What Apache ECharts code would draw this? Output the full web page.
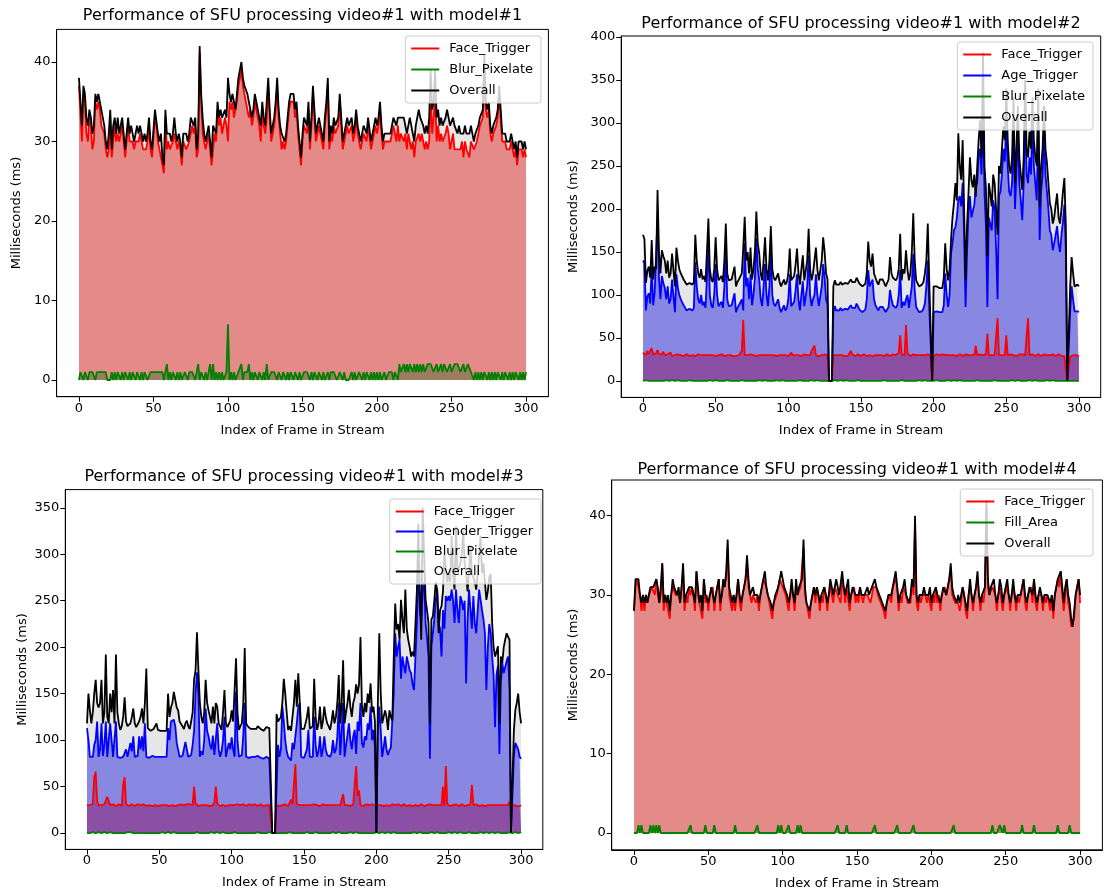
<!DOCTYPE html>
<html>
<head>
<meta charset="utf-8">
<script src="https://cdn.jsdelivr.net/npm/echarts@6/dist/echarts.min.js"></script>
<style>
html,body{margin:0;padding:0;background:#fff;}
#chart{width:1105px;height:892px;}
</style>
</head>
<body>
<div id="chart"></div>
<script>
// Per-frame processing time (ms), frames 0..300, for each pipeline stage.

// ---- model#1 ----
const m1Face = [
37,37,30,36,35,31,30,33,32,29,
30,35,34,35,34,32,32,31,29,28,
29,33,28,30,32,30,31,30,31,32,
30,28,28,32,30,30,30,29,30,30,
30,31,30,29,29,29,30,32,29,28,
28,33,32,30,29,29,27,26,33,29,
30,29,29,30,31,30,29,30,29,27,
30,30,29,29,30,31,32,31,32,28,
29,41,35,31,30,29,29,31,29,27,
29,31,30,34,32,33,31,32,33,32,
30,35,34,35,33,33,35,37,37,39,
37,36,35,35,33,34,32,33,35,34,
33,32,30,34,32,31,33,37,33,30,
31,32,34,37,33,31,29,30,29,30,
32,34,35,35,35,33,34,31,29,27,
30,32,32,31,34,29,32,36,33,30,
31,32,32,30,29,32,34,37,29,31,
30,32,31,31,32,35,32,29,30,31,
32,31,31,32,30,31,33,31,30,29,
30,31,31,30,32,32,29,30,31,32,
31,32,34,31,29,30,30,30,30,30,
31,32,31,30,32,30,31,31,30,31,
29,31,30,29,30,28,30,30,31,30,
31,30,29,30,29,30,36,31,33,36,
30,32,30,31,30,30,31,32,31,29,
30,31,29,29,29,29,29,30,28,30,
29,29,28,30,30,29,29,30,30,32,
32,33,40,34,33,34,31,30,31,31,
32,33,36,33,30,30,30,29,29,29,
30,29,28,29,27,29,29,29,28,29,
28];
const m1Blur = [
0,1,1,0,1,1,0,1,1,1,
1,0,1,1,1,1,1,1,1,0,
0,0,1,0,1,0,1,1,0,1,
0,1,1,0,1,0,1,1,0,1,
1,0,1,0,1,1,0,0,1,1,
1,1,1,1,1,1,1,0,0,2,
0,1,0,1,1,0,1,0,1,0,
0,1,1,0,1,1,1,1,0,1,
2,0,1,1,0,1,0,1,2,0,
2,0,1,0,1,0,1,0,0,1,
7,0,1,0,1,0,0,1,1,2,
0,1,1,1,2,0,1,0,1,1,
0,1,1,0,1,0,2,0,0,1,
1,1,1,0,1,1,0,1,1,0,
1,0,1,1,0,1,1,0,1,0,
0,1,1,1,1,0,1,0,1,1,
0,1,1,0,1,0,0,1,0,1,
1,1,1,0,0,1,1,0,1,0,
0,0,0,1,0,1,0,0,1,1,
0,1,0,1,1,0,1,0,1,0,
1,0,1,0,0,1,0,0,1,1,
1,0,1,1,0,2,1,1,2,1,
2,1,2,2,1,2,1,2,1,2,
1,2,1,1,2,2,2,2,1,1,
2,1,1,2,1,2,2,1,1,2,
1,1,2,2,2,2,1,1,2,1,
1,2,2,1,1,0,1,0,1,0,
1,0,1,1,0,1,0,1,0,1,
0,1,1,0,1,0,1,1,0,1,
0,1,0,1,1,0,1,0,1,0,
1];
const m1Overall = [
38,38,32,37,36,33,32,34,33,31,
32,36,35,36,35,34,33,32,30,29,
31,34,29,32,33,31,33,31,32,33,
31,29,29,33,31,32,31,30,31,32,
31,32,31,30,31,30,31,33,30,29,
29,34,34,31,30,31,28,27,34,31,
31,31,30,31,33,31,30,31,30,28,
31,31,31,30,31,33,33,32,33,29,
31,42,36,33,31,30,31,32,30,28,
32,32,31,35,33,34,33,33,34,33,
38,36,35,36,35,34,36,38,38,40,
38,37,37,36,35,35,33,34,36,35,
34,33,32,35,33,32,35,38,34,31,
32,33,35,38,34,32,31,31,30,31,
33,35,36,36,36,34,35,32,30,28,
31,33,33,32,35,30,33,37,34,31,
32,33,33,31,30,33,35,38,30,32,
31,33,32,32,33,36,33,30,31,32,
33,32,32,33,31,32,34,32,31,30,
31,32,32,31,33,33,30,31,32,33,
32,33,35,32,30,31,31,31,31,31,
32,33,33,32,33,33,33,33,33,32,
31,32,33,32,31,30,32,33,34,33,
33,32,31,32,31,33,39,34,35,39,
33,34,32,33,32,32,33,34,33,32,
32,33,32,32,31,32,31,31,31,32,
31,31,31,32,31,30,31,31,32,33,
33,34,41,35,34,35,32,31,32,32,
33,34,37,34,31,31,31,30,30,30,
31,30,29,30,28,30,30,30,29,30,
29];

// ---- model#2 ----
const m2Face = [
33,31,30,35,32,30,38,31,30,32,
36,31,30,31,34,30,32,31,30,33,
29,31,30,29,31,30,30,31,29,30,
31,30,29,30,30,31,29,30,31,30,
30,29,30,31,30,29,30,31,30,30,
29,30,30,29,31,30,29,30,30,29,
30,31,29,30,29,30,30,31,35,71,
30,29,30,30,31,29,30,30,29,31,
30,29,30,31,30,29,30,31,30,29,
30,31,29,30,30,31,30,29,30,30,
29,30,33,30,29,30,31,30,30,29,
30,31,29,30,31,30,35,37,41,30,
31,29,30,30,29,31,30,30,0,0,
0,30,29,30,31,30,29,30,30,29,
30,29,30,35,31,30,29,30,31,30,
29,30,31,30,29,30,30,31,29,30,
30,29,30,31,30,30,29,30,31,30,
29,30,31,30,30,32,33,53,31,30,
30,65,32,30,29,30,31,30,30,29,
30,31,30,29,30,30,31,30,29,0,
29,30,31,30,30,29,31,30,30,31,
30,29,30,31,30,30,29,30,31,30,
29,30,31,30,30,32,30,31,30,41,
30,29,31,30,30,32,31,55,30,29,
30,31,30,31,73,30,29,30,31,30,
53,30,29,31,30,30,31,29,30,31,
30,31,29,30,30,73,30,29,31,30,
29,30,31,30,29,30,31,30,30,29,
30,29,31,30,29,30,31,30,29,30,
29,30,0,0,28,29,30,29,30,29,
29];
const m2Age = [
140,137,82,98,102,90,133,88,102,100,
190,120,95,122,114,108,95,110,90,95,
118,98,80,124,108,100,95,94,88,85,
82,82,84,82,82,85,138,110,95,90,
100,88,92,85,120,158,100,88,85,100,
136,100,87,85,92,85,110,152,95,87,
85,88,90,102,80,85,88,87,95,82,
160,110,120,95,124,88,100,120,166,130,
118,95,87,110,136,100,87,110,150,100,
90,87,88,95,85,80,84,88,82,85,
95,124,87,88,92,105,124,95,82,100,
116,87,85,110,146,100,87,95,100,124,
100,87,85,110,136,120,95,88,0,0,
0,80,87,82,83,82,85,82,83,84,
82,83,85,88,85,84,85,90,88,83,
82,80,82,83,95,129,110,110,118,95,
88,85,82,86,85,86,88,80,82,86,
106,95,88,86,85,88,100,129,85,92,
88,95,100,85,84,110,148,105,86,84,
80,82,81,84,90,110,140,86,84,0,
80,82,81,80,80,82,80,88,125,100,
86,100,148,160,175,179,190,210,215,203,
230,170,86,150,195,215,190,190,205,226,
230,261,270,240,330,220,180,86,190,190,
175,210,200,155,95,215,220,240,270,255,
300,250,220,215,230,300,200,240,290,230,
210,187,230,320,240,230,260,240,300,250,
230,210,310,164,220,240,290,240,220,200,
175,170,152,160,170,180,160,150,170,185,
205,150,0,0,80,110,95,81,82,81,
80];
const m2Blur = [
0,0,1,0,0,1,0,0,0,1,
0,1,0,0,0,0,1,0,0,0,
1,0,0,0,1,0,0,0,0,1,
0,0,1,0,0,0,0,1,0,0,
0,1,0,0,0,0,1,0,0,0,
1,0,0,0,0,1,0,0,1,0,
0,0,0,1,0,0,0,0,1,0,
0,1,0,0,0,1,0,0,0,0,
1,0,0,0,1,0,0,1,0,0,
0,0,1,0,0,0,1,0,0,1,
0,0,0,1,0,0,0,0,1,0,
0,1,0,0,0,0,1,0,0,0,
1,0,0,1,0,0,0,0,0,0,
0,0,1,0,0,0,1,0,0,0,
1,0,0,0,0,1,0,0,1,0,
0,0,0,1,0,0,0,1,0,0,
0,1,0,0,0,0,1,0,0,1,
0,0,0,1,0,0,0,0,1,0,
0,1,0,0,0,1,0,0,0,0,
1,0,0,0,1,0,0,1,0,0,
0,0,1,0,0,0,0,1,0,0,
1,0,0,0,1,0,0,0,1,0,
0,1,0,0,0,1,0,1,0,0,
1,0,0,1,0,0,0,1,0,0,
0,0,1,0,0,1,0,0,0,1,
0,1,0,0,1,0,0,0,1,0,
0,0,0,1,0,0,1,0,0,0,
1,0,0,0,0,1,0,0,1,0,
0,0,1,0,0,0,0,1,0,0,
0,1,0,0,0,1,0,0,0,1,
0];
const m2Overall = [
170,165,114,128,133,120,164,118,133,130,
222,150,125,152,145,140,125,140,120,125,
148,128,110,155,140,130,125,125,118,115,
112,112,114,112,112,115,170,140,125,120,
130,118,122,115,150,189,130,118,115,130,
167,130,117,115,122,115,140,183,125,117,
115,118,120,133,110,115,118,117,125,155,
191,140,150,125,155,118,130,150,197,160,
148,125,117,140,167,130,117,140,180,130,
120,117,118,125,115,110,114,118,112,115,
125,154,117,118,122,135,154,125,112,130,
146,117,115,140,177,130,117,125,140,155,
130,117,115,140,167,150,125,118,0,0,
0,110,117,112,113,112,115,112,113,114,
112,113,115,118,115,114,115,120,118,113,
112,110,112,113,125,162,140,133,148,125,
120,115,112,118,117,118,120,110,110,118,
144,125,120,118,117,120,130,171,117,130,
125,152,130,117,125,150,195,140,117,115,
110,110,112,115,125,140,183,117,115,0,
110,112,110,108,108,110,108,120,160,130,
117,130,164,190,207,230,210,288,250,234,
280,200,117,180,218,260,234,225,240,214,
249,280,303,260,382,250,225,145,230,218,
203,240,230,200,170,250,241,270,296,280,
340,280,250,241,260,330,230,270,320,260,
240,222,260,350,270,260,290,270,330,280,
261,250,340,203,250,270,320,270,254,230,
207,200,183,190,205,218,190,183,200,220,
236,180,0,0,110,144,125,110,112,112,
110];

// ---- model#3 ----
const m3Face = [
30,31,30,29,31,60,66,35,30,31,
30,29,31,30,39,37,30,29,31,30,
29,30,31,30,29,52,60,31,30,29,
30,31,30,29,30,31,30,30,29,31,
30,29,31,30,30,29,31,30,30,29,
31,30,29,30,31,30,30,29,31,30,
30,29,31,30,30,31,29,30,30,31,
30,31,29,30,50,32,30,29,31,30,
29,30,31,30,30,29,31,30,33,50,
32,30,29,31,30,30,29,31,30,29,
30,31,30,29,31,30,30,29,31,30,
29,30,31,30,30,29,31,30,29,30,
31,30,29,30,30,31,30,29,0,0,
0,30,31,29,30,30,29,31,30,29,
30,36,31,30,74,31,29,30,31,30,
29,30,31,30,29,30,30,31,29,30,
30,29,30,31,30,30,29,30,31,30,
29,30,31,30,31,30,30,42,30,29,
30,31,29,30,31,30,72,40,46,30,
31,29,30,31,30,30,29,31,30,30,
29,30,31,30,30,29,31,30,30,29,
30,31,29,30,30,31,30,29,30,31,
30,29,31,30,30,29,31,30,30,29,
30,31,30,29,31,30,30,31,29,30,
31,30,29,30,31,30,50,29,72,31,
30,29,31,30,30,31,30,29,30,31,
30,29,31,30,30,31,52,30,29,31,
30,29,31,30,30,29,31,30,29,30,
31,30,29,30,31,30,29,30,31,30,
29,30,34,30,29,30,31,29,30,29,
30];
const m3Gender = [
113,100,82,83,82,95,100,120,82,90,
118,83,95,120,82,80,118,116,82,84,
120,82,82,81,82,82,86,90,82,82,
97,88,104,82,84,83,104,90,104,88,
118,82,82,81,82,83,82,82,84,82,
81,82,83,82,81,82,113,100,120,118,
122,115,97,95,82,82,83,82,98,90,
82,82,84,95,110,150,173,150,82,88,
84,100,134,110,104,95,90,105,84,82,
118,90,82,88,100,125,82,84,97,90,
103,90,82,152,100,82,83,84,105,140,
82,83,81,82,82,81,82,82,83,82,
81,82,80,82,82,81,80,80,0,0,
0,0,95,82,90,136,120,100,88,82,
84,78,97,90,90,118,136,140,82,82,
81,82,90,111,82,81,82,125,95,82,
88,104,82,90,104,90,84,82,82,86,
100,86,90,104,140,84,108,140,82,95,
105,118,100,90,104,111,85,120,110,140,
97,92,104,100,118,111,136,100,111,92,
0,110,136,110,82,92,104,90,84,89,
92,93,150,215,190,200,208,166,190,180,
172,190,190,175,172,160,154,190,226,297,
240,226,262,270,226,210,190,80,200,200,
230,250,262,226,220,190,240,220,255,250,
255,250,262,250,226,262,240,226,255,250,
240,250,161,230,262,262,220,255,226,215,
240,262,262,240,230,215,154,200,225,215,
190,170,114,170,180,85,160,183,172,172,
185,190,154,0,0,82,97,97,90,82,
80];
const m3Blur = [
0,1,0,0,1,0,0,0,1,0,
0,0,1,0,0,0,1,0,0,1,
0,0,0,1,0,0,0,0,1,0,
1,0,0,0,0,1,0,0,0,0,
0,1,0,0,0,0,0,1,0,0,
0,0,1,0,0,0,1,0,0,0,
1,0,0,0,0,1,0,0,0,1,
0,0,0,1,0,0,1,1,0,0,
0,1,0,0,0,0,1,0,0,0,
1,0,0,0,1,0,0,0,0,1,
0,0,1,0,0,0,0,1,0,0,
0,0,0,1,0,0,0,0,1,0,
0,1,0,0,0,0,1,0,0,0,
0,0,0,1,0,0,0,1,0,0,
1,0,0,0,0,1,0,0,0,0,
0,0,1,0,0,0,0,0,1,0,
0,1,0,0,0,1,0,0,0,0,
1,0,0,0,1,0,0,0,0,1,
0,0,1,0,0,0,1,0,0,0,
0,1,0,0,0,0,0,1,0,0,
1,0,0,0,1,0,0,0,1,0,
0,0,1,0,0,1,0,0,0,1,
0,1,0,0,0,0,1,0,0,0,
1,0,0,1,0,0,0,0,1,0,
0,0,1,0,0,1,0,1,0,0,
1,0,0,0,1,0,0,0,1,0,
0,1,0,0,1,1,0,0,0,1,
0,0,1,0,0,0,1,0,0,0,
1,0,0,0,1,0,0,1,0,0,
0,0,1,0,0,0,1,0,0,0,
1];
const m3Overall = [
118,150,132,118,130,150,165,140,135,140,
165,118,130,192,125,118,150,130,154,118,
192,130,118,111,115,125,146,120,115,114,
118,125,134,118,114,113,120,125,134,118,
140,177,113,112,110,110,112,110,118,111,
109,110,112,110,109,110,150,125,135,140,
152,150,135,132,120,118,115,112,118,121,
115,112,120,130,165,175,216,175,140,125,
118,130,165,140,132,125,118,136,118,140,
136,118,115,111,130,154,118,114,115,121,
132,120,118,188,130,111,115,118,140,199,
118,115,113,112,113,112,114,112,115,113,
112,113,110,112,114,112,113,111,0,0,
0,128,120,118,125,140,166,150,130,111,
115,110,125,140,165,136,172,172,112,111,
112,118,125,136,112,111,115,166,125,111,
118,136,112,120,136,125,118,115,111,120,
132,118,125,140,170,118,140,186,118,130,
140,154,136,125,140,146,160,150,160,211,
136,125,140,130,150,140,161,130,136,120,
0,140,215,150,118,125,132,125,111,132,
125,121,190,247,219,225,208,251,230,215,
262,220,208,200,190,195,190,226,262,333,
260,208,350,300,251,240,226,118,230,233,
250,270,262,215,240,244,260,300,285,270,
279,270,320,280,262,330,280,279,290,300,
325,290,279,260,280,310,280,279,270,262,
280,300,320,280,290,270,251,260,275,279,
226,200,190,195,201,118,190,183,200,208,
215,216,208,0,0,110,132,140,150,130,
118];

// ---- model#4 ----
const m4Face = [
28,31,32,31,30,28,30,28,30,29,
30,30,31,31,30,32,30,29,30,34,
28,30,29,29,27,30,31,31,30,30,
30,29,31,33,28,30,29,31,30,31,
30,28,33,30,29,29,27,32,29,30,
28,30,30,31,28,30,30,32,28,30,
31,31,32,36,30,30,28,30,28,30,
32,29,28,30,30,32,34,31,30,29,
30,30,29,30,28,30,30,32,32,31,
30,29,28,27,29,29,30,30,32,32,
31,31,30,30,28,30,31,30,28,31,
30,30,31,31,36,30,29,28,27,29,
29,31,29,31,30,28,30,29,31,30,
28,30,31,31,29,31,31,30,30,29,
32,31,29,31,31,28,30,30,31,29,
30,29,31,30,29,30,30,30,30,29,
30,31,31,31,30,30,29,29,28,27,
29,29,30,29,31,31,32,31,28,30,
29,31,31,30,29,29,29,32,30,39,
29,28,30,29,30,30,30,29,30,30,
28,30,29,31,29,30,28,30,30,31,
30,30,32,33,30,30,29,29,29,28,
29,31,30,28,27,30,31,30,28,30,
30,32,30,28,30,29,31,41,31,30,
30,31,31,30,28,30,31,31,28,30,
31,31,30,28,30,31,30,28,30,29,
30,30,32,29,28,30,30,31,29,32,
29,28,30,30,30,28,30,29,30,29,
28,30,27,30,30,32,31,33,30,28,
30,32,29,28,26,26,27,30,30,32,
29];
const m4Fill = [
0,0,0,1,0,1,0,0,0,0,
0,1,0,1,0,1,0,1,0,0,
0,0,0,0,0,0,0,0,0,0,
0,0,0,0,0,0,0,0,1,0,
0,0,0,0,0,0,0,0,1,0,
0,0,0,0,1,0,0,0,0,0,
0,0,0,0,0,0,0,0,1,0,
0,0,0,0,0,0,0,0,0,0,
0,0,0,1,0,0,0,0,0,0,
0,0,0,0,0,0,0,1,0,1,
0,0,0,0,1,0,0,0,0,0,
1,0,1,0,0,0,0,0,0,0,
0,0,0,0,0,0,0,0,0,0,
0,0,0,0,0,0,0,1,0,0,
0,0,0,1,0,0,0,0,0,0,
0,0,0,0,0,0,0,0,0,0,
0,0,1,0,0,0,0,0,0,0,
0,0,0,0,0,0,0,1,0,0,
0,0,0,0,0,0,0,0,1,0,
0,0,0,0,0,0,0,0,0,0,
0,0,0,0,0,0,0,0,0,0,
0,0,0,0,0,1,0,0,0,0,
0,0,0,0,0,0,0,0,0,0,
0,0,0,0,0,0,0,0,0,0,
0,1,0,0,0,0,1,1,0,1,
0,0,0,0,0,0,0,0,0,0,
0,1,0,0,0,0,0,0,0,1,
0,0,0,0,0,0,0,0,0,0,
0,0,0,0,0,1,0,0,0,0,
0,0,0,1,0,0,0,0,0,0,
0];
const m4Overall = [
28,32,32,32,30,29,30,29,30,29,
30,31,31,31,31,32,31,29,31,34,
29,30,29,30,28,30,32,31,31,30,
31,29,31,34,29,30,30,31,31,31,
30,29,33,31,29,30,28,32,30,30,
29,30,31,31,29,30,31,32,29,30,
32,31,33,37,31,30,29,30,29,30,
32,30,29,30,31,32,35,32,30,30,
31,30,30,30,29,30,31,32,33,31,
30,30,29,28,29,30,30,31,32,33,
32,31,31,30,29,30,32,30,29,32,
30,31,31,32,37,31,29,29,28,29,
30,31,30,31,30,29,30,30,31,30,
29,30,32,31,30,31,32,31,30,30,
33,31,30,31,32,29,30,31,31,30,
30,30,31,30,30,30,30,31,30,30,
31,31,32,31,31,30,30,29,29,28,
29,30,30,30,31,32,33,31,29,30,
30,31,32,30,30,29,30,32,31,40,
30,29,30,30,30,31,30,30,30,31,
29,30,30,31,30,30,29,30,31,31,
30,31,32,34,31,30,30,29,30,29,
30,31,30,29,28,30,32,30,29,30,
31,33,30,29,30,30,31,42,32,30,
31,31,32,30,29,30,32,31,29,30,
31,32,30,29,30,32,30,29,30,30,
30,31,32,30,29,30,31,31,30,32,
30,29,30,31,30,29,30,30,30,30,
29,30,28,30,31,32,32,33,31,29,
31,32,30,29,27,26,28,30,31,32,
30];

// Axis tick values
const frameTicks = [0, 50, 100, 150, 200, 250, 300];
const msTicksSmall = [0, 10, 20, 30, 40];
const msTicks400 = [0, 50, 100, 150, 200, 250, 300, 350, 400];
const msTicks350 = [0, 50, 100, 150, 200, 250, 300, 350];

const FONT = 'DejaVu Sans';
const RED = '#ff0000', BLUE = '#0000ff', GREEN = '#008000', BLACK = '#000000';
const GRAY_FILL = '#e6e6e6', RED_FILL = '#e48a88', BLUE_FILL = '#8888e3',
      PURPLE_FILL = '#8b4fa6', BROWN_FILL = '#9b7e5f', DARK_FILL = '#5d4a78';

// Layout of the four panels (plot boxes in px) and what each one draws.
const panels = [
  {
    title: 'Performance of SFU processing video#1 with model#1',
    box: { left: 56.6, top: 29.4, width: 491.8, height: 367.3 },
    yRange: [-2.1, 44.1], yTicks: msTicksSmall, yNameGap: 33,
    titleTop: 8, legendPos: { top: 36, right: 564 }, legendGap: 6,
    series: [
      { name: 'Face_Trigger', data: m1Face, color: RED, fill: RED_FILL, layer: 2 },
      { name: 'Blur_Pixelate', data: m1Blur, color: GREEN, fill: BROWN_FILL, layer: 3 },
      { name: 'Overall', data: m1Overall, color: BLACK, fill: GRAY_FILL, layer: 0 }
    ]
  },
  {
    title: 'Performance of SFU processing video#1 with model#2',
    box: { left: 621.2, top: 36, width: 479.5, height: 361.4 },
    yRange: [-19.1, 401.1], yTicks: msTicks400, yNameGap: 41,
    titleTop: 16, legendPos: { top: 42, right: 12 }, legendGap: 6,
    series: [
      { name: 'Face_Trigger', data: m2Face, color: RED, fill: PURPLE_FILL, layer: 2 },
      { name: 'Age_Trigger', data: m2Age, color: BLUE, fill: BLUE_FILL, layer: 1 },
      { name: 'Blur_Pixelate', data: m2Blur, color: GREEN, fill: DARK_FILL, layer: 3 },
      { name: 'Overall', data: m2Overall, color: BLACK, fill: GRAY_FILL, layer: 0 }
    ]
  },
  {
    title: 'Performance of SFU processing video#1 with model#3',
    box: { left: 65.3, top: 489.6, width: 477.5, height: 359.8 },
    yRange: [-17.6, 369.6], yTicks: msTicks350, yNameGap: 36,
    titleTop: 469, legendPos: { top: 499, right: 564 }, legendGap: 5,
    series: [
      { name: 'Face_Trigger', data: m3Face, color: RED, fill: PURPLE_FILL, layer: 2 },
      { name: 'Gender_Trigger', data: m3Gender, color: BLUE, fill: BLUE_FILL, layer: 1 },
      { name: 'Blur_Pixelate', data: m3Blur, color: GREEN, fill: DARK_FILL, layer: 3 },
      { name: 'Overall', data: m3Overall, color: BLACK, fill: GRAY_FILL, layer: 0 }
    ]
  },
  {
    title: 'Performance of SFU processing video#1 with model#4',
    box: { left: 611.7, top: 480, width: 490.7, height: 369.8 },
    yRange: [-2.12, 44.5], yTicks: msTicksSmall, yNameGap: 32,
    titleTop: 462, legendPos: { top: 489, right: 12 }, legendGap: 6,
    series: [
      { name: 'Face_Trigger', data: m4Face, color: RED, fill: RED_FILL, layer: 2 },
      { name: 'Fill_Area', data: m4Fill, color: GREEN, fill: BROWN_FILL, layer: 3 },
      { name: 'Overall', data: m4Overall, color: BLACK, fill: GRAY_FILL, layer: 0 }
    ]
  }
];

const toPoints = arr => arr.map((v, i) => [i, v]);

const option = {
  animation: false,
  backgroundColor: '#ffffff',
  textStyle: { fontFamily: FONT },
  title: [], grid: [], xAxis: [], yAxis: [], legend: [], series: []
};

panels.forEach((p, k) => {
  option.grid.push(Object.assign({
    show: true, borderColor: '#000', borderWidth: 1, backgroundColor: 'transparent',
    containLabel: false, outerBoundsMode: 'none'
  }, p.box));

  option.title.push({
    text: p.title,
    left: p.box.left + p.box.width / 2, top: p.titleTop, textAlign: 'center', padding: 0,
    textStyle: { fontFamily: FONT, fontSize: 16, fontWeight: 'normal', color: '#000' }
  });

  option.xAxis.push({
    type: 'value', gridIndex: k, min: -15, max: 315,
    name: 'Index of Frame in Stream', nameLocation: 'middle', nameGap: 27,
    nameTextStyle: { fontFamily: FONT, fontSize: 13, color: '#000' },
    axisLine: { show: true, onZero: false, lineStyle: { color: '#000', width: 1 } },
    axisTick: { show: true, length: 5, lineStyle: { color: '#000' }, customValues: frameTicks },
    axisLabel: { fontFamily: FONT, fontSize: 13, color: '#000', margin: 5, customValues: frameTicks },
    splitLine: { show: false }
  });

  option.yAxis.push({
    type: 'value', gridIndex: k, min: p.yRange[0], max: p.yRange[1],
    name: 'Milliseconds (ms)', nameLocation: 'middle', nameGap: p.yNameGap,
    nameTextStyle: { fontFamily: FONT, fontSize: 13, color: '#000' },
    axisLine: { show: true, onZero: false, lineStyle: { color: '#000', width: 1 } },
    axisTick: { show: true, length: 5, lineStyle: { color: '#000' }, customValues: p.yTicks },
    axisLabel: { fontFamily: FONT, fontSize: 13, color: '#000', margin: 6, customValues: p.yTicks },
    splitLine: { show: false }
  });

  option.legend.push({
    orient: 'vertical', top: p.legendPos.top, right: p.legendPos.right,
    data: p.series.map(s => s.name),
    icon: 'rect', itemWidth: 28, itemHeight: 2, itemGap: p.legendGap,
    padding: [5, 8, 5, 6],
    backgroundColor: 'rgba(255,255,255,0.8)', borderColor: '#cccccc', borderWidth: 1, borderRadius: 3,
    textStyle: { fontFamily: FONT, fontSize: 13, color: '#000', lineHeight: 15, padding: [0, 0, 0, 5] },
    selectedMode: false, z: 10
  });

  // filled regions under each stage, bottom-up: overall, trigger, face, blur/fill
  p.series.slice().sort((a, b) => a.layer - b.layer).forEach(s => {
    option.series.push({
      type: 'line', name: s.name + ' area', xAxisIndex: k, yAxisIndex: k,
      data: toPoints(s.data), symbol: 'none', silent: true, z: 1 + s.layer * 0.1,
      lineStyle: { width: 0, opacity: 0 },
      areaStyle: { color: s.fill, opacity: 1 }
    });
  });

  // stage lines on top
  p.series.forEach((s, j) => {
    option.series.push({
      type: 'line', name: s.name, xAxisIndex: k, yAxisIndex: k,
      data: toPoints(s.data), symbol: 'none', showSymbol: false, z: 3 + j * 0.1,
      color: s.color, itemStyle: { color: s.color },
      lineStyle: { width: 1.8, color: s.color }
    });
  });
});

const chart = echarts.init(document.getElementById('chart'), null, { renderer: 'canvas' });
chart.setOption(option);
</script>
</body>
</html>
